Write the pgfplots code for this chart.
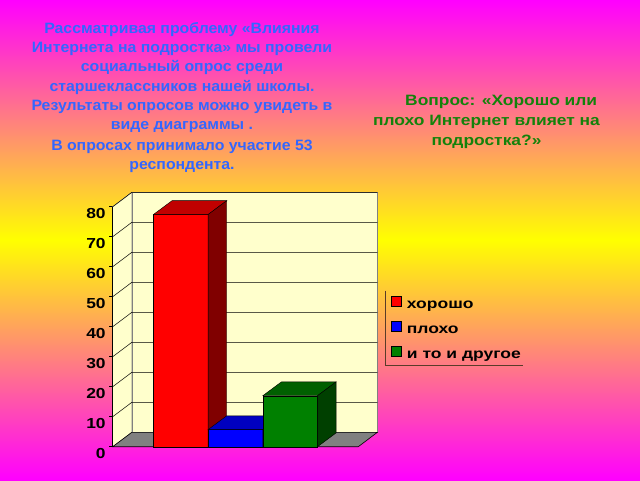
\documentclass[border=0pt]{standalone}
\usepackage{fontspec}
\setmainfont{Liberation Sans}[FakeStretch=1.15]
\newfontfamily\leftfont{Liberation Sans}[FakeStretch=1.055]
\newfontfamily\rightfont{Liberation Sans}[FakeStretch=1.16]
\newfontfamily\tickfont{Liberation Sans}[FakeStretch=1.2]
\newfontfamily\legfont{Liberation Sans}[FakeStretch=1.25]
\usepackage{pgfplots}
\pgfplotsset{compat=1.18}
\definecolor{txtblue}{RGB}{51,102,255}
\definecolor{txtgreen}{RGB}{20,130,10}
\definecolor{wall}{RGB}{255,255,204}
\definecolor{floorgray}{RGB}{128,128,128}
\definecolor{redtop}{RGB}{192,0,0}
\definecolor{redside}{RGB}{128,0,0}
\definecolor{bluetop}{RGB}{0,0,192}
\definecolor{blueside}{RGB}{0,0,128}
\definecolor{grn}{RGB}{0,128,0}
\definecolor{grntop}{RGB}{0,96,0}
\definecolor{grnside}{RGB}{0,64,0}
\definecolor{legline}{RGB}{90,60,40}
\begin{document}
\begin{tikzpicture}
\useasboundingbox (0pt,0pt) rectangle (640pt,480pt);
\shade[top color=magenta, bottom color=magenta, middle color=yellow] (0pt,0pt) rectangle (640pt,480pt);
% left text block
\begin{scope}[every node/.style={anchor=base, font=\leftfont\bfseries\fontsize{15}{18}\selectfont, text=txtblue, inner sep=0pt}]
\node at (182pt,446.7pt) {Рассматривая проблему «Влияния};
\node at (182pt,427.3pt) {Интернета на подростка» мы провели};
\node at (182pt,408pt) {социальный опрос среди};
\node at (182pt,388.7pt) {старшеклассников нашей школы.};
\node at (182pt,369.3pt) {Результаты опросов можно увидеть в};
\node at (182pt,350pt) {виде диаграммы .};
\node at (182pt,329.3pt) {В опросах принимало участие 53};
\node at (182pt,310.7pt) {респондента.};
\end{scope}
\begin{scope}[every node/.style={anchor=base, font=\rightfont\bfseries\fontsize{15}{18}\selectfont, text=txtgreen, inner sep=0pt}]
\node[anchor=base west] at (405pt,374pt) {Вопрос: «Хорошо или};
\node at (486.5pt,354pt) {плохо Интернет влияет на};
\node at (486.5pt,334.7pt) {подростка?»};
\end{scope}
% legend frame
\draw[legline, line width=0.8pt] (385.7pt,189.3pt) -- (385.7pt,115pt) -- (522.7pt,115pt);
\begin{axis}[
  at={(112.7pt,33.3pt)}, anchor=south west,
  width=264.7pt, height=254.4pt, scale only axis,
  xmin=-0.245, xmax=4.595, ymin=0, ymax=84.8,
  axis x line=none, axis y line*=left, y axis line style={draw=none},
  ytick={0,10,20,30,40,50,60,70,80},
  yticklabels={0,10,20,30,40,50,60,70,80},
  tick align=outside, major tick length=3.5pt,
  tick style={black, line width=0.6pt},
  yticklabel style={font=\tickfont\bfseries\fontsize{14.5}{14.5}\selectfont, text=black, yshift=-7pt},
  clip=false,
  unbounded coords=jump,
  legend image code/.code={\draw[#1,draw=black,line width=0.5pt] (0pt,-1pt) rectangle (10pt,9pt);},
  legend style={at={(1.0503,0.5924)}, anchor=north west, draw=none, fill=none,
    font=\legfont\bfseries\fontsize{14}{16}\selectfont, row sep=7.5pt, inner sep=0pt,
    nodes={text height=10pt, text depth=3pt, inner sep=1.5pt},
    /tikz/every odd column/.append style={column sep=4pt}},
  legend cell align=left,
]
% walls and floor
\addplot[fill=wall, draw=floorgray, line width=0.5pt, forget plot] coordinates {(-0.245,0) (0.105,4.8) (0.105,84.8) (-0.245,80)} --cycle;
\addplot[fill=wall, draw=floorgray, line width=0.5pt, forget plot] coordinates {(0.105,4.8) (4.595,4.8) (4.595,84.8) (0.105,84.8)} --cycle;
\addplot[fill=floorgray, draw=black, line width=0.6pt, forget plot] coordinates {(-0.245,0) (4.245,0) (4.595,4.8) (0.105,4.8)} --cycle;
% gridlines
\addplot[black, line width=0.5pt, forget plot] coordinates {
(-0.245,10) (0.105,14.8) (4.595,14.8) (nan,nan)
(-0.245,20) (0.105,24.8) (4.595,24.8) (nan,nan)
(-0.245,30) (0.105,34.8) (4.595,34.8) (nan,nan)
(-0.245,40) (0.105,44.8) (4.595,44.8) (nan,nan)
(-0.245,50) (0.105,54.8) (4.595,54.8) (nan,nan)
(-0.245,60) (0.105,64.8) (4.595,64.8) (nan,nan)
(-0.245,70) (0.105,74.8) (4.595,74.8) (nan,nan)
(-0.245,80) (0.105,84.8) (4.595,84.8)
};
% front axis line
\addplot[black, line width=0.7pt, forget plot] coordinates {(-0.245,0) (-0.245,80)};
% red bar: 77.4
\addplot[ybar, bar width=1, bar shift=0pt, fill=red, draw=black, line width=0.4pt, forget plot] coordinates {(1,77.4)};
\addplot[fill=redtop, draw=black, line width=0.4pt, forget plot] coordinates {(0.5,77.4) (1.5,77.4) (1.84,82.0) (0.84,82.0)} --cycle;
\addplot[fill=redside, draw=black, line width=0.4pt, forget plot] coordinates {(1.5,0) (1.84,4.6) (1.84,82.0) (1.5,77.4)} --cycle;
% blue bar: 5.7
\addplot[ybar, bar width=1, bar shift=0pt, fill=blue, draw=black, line width=0.4pt, forget plot] coordinates {(2,5.7)};
\addplot[fill=bluetop, draw=black, line width=0.4pt, forget plot] coordinates {(1.5,5.7) (2.5,5.7) (2.84,10.3) (1.84,10.3)} --cycle;
\addplot[fill=blueside, draw=black, line width=0.4pt, forget plot] coordinates {(2.5,0) (2.84,4.6) (2.84,10.3) (2.5,5.7)} --cycle;
% green bar: 17.0
\addplot[ybar, bar width=1, bar shift=0pt, fill=grn, draw=black, line width=0.4pt, forget plot] coordinates {(3,17.0)};
\addplot[fill=grntop, draw=black, line width=0.4pt, forget plot] coordinates {(2.5,17.0) (3.5,17.0) (3.84,21.6) (2.84,21.6)} --cycle;
\addplot[fill=grnside, draw=black, line width=0.4pt, forget plot] coordinates {(3.5,0) (3.84,4.6) (3.84,21.6) (3.5,17.0)} --cycle;
% legend
\addlegendimage{fill=red}
\addlegendentry{хорошо}
\addlegendimage{fill=blue}
\addlegendentry{плохо}
\addlegendimage{fill=grn}
\addlegendentry{и то и другое}
\end{axis}
\end{tikzpicture}
\end{document}
